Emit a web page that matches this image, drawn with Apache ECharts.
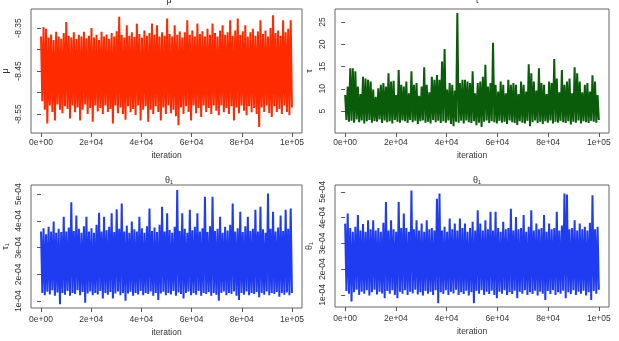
<!DOCTYPE html>
<html><head><meta charset="utf-8">
<script src="https://cdn.jsdelivr.net/npm/echarts@6/dist/echarts.min.js"></script>
<style>html,body{margin:0;padding:0;background:#fff}#c{width:619px;height:341px}</style>
</head><body><div id="c"></div>
<script>
// ---- x axis (iterations) ----
const xTickValues = [0, 20000, 40000, 60000, 80000, 100000];
const xTickLabels = ['0e+00', '2e+04', '4e+04', '6e+04', '8e+04', '1e+05'];
const nIter = 100000;

// ---- mu trace: local maxima / minima read along the chain ----
const muHi = [-8.37,-8.348,-8.352,-8.372,-8.365,-8.378,-8.359,-8.37,-8.375,-8.362,
-8.336,-8.368,-8.372,-8.36,-8.376,-8.366,-8.37,-8.359,-8.374,-8.368,
-8.35,-8.372,-8.366,-8.378,-8.359,-8.37,-8.365,-8.375,-8.362,-8.37,
-8.358,-8.324,-8.366,-8.372,-8.344,-8.368,-8.36,-8.371,-8.34,-8.364,
-8.372,-8.356,-8.368,-8.362,-8.34,-8.366,-8.344,-8.37,-8.36,-8.368,
-8.328,-8.364,-8.37,-8.344,-8.366,-8.358,-8.372,-8.36,-8.332,-8.366,
-8.356,-8.37,-8.34,-8.364,-8.358,-8.37,-8.352,-8.366,-8.34,-8.362,
-8.37,-8.356,-8.344,-8.366,-8.36,-8.332,-8.368,-8.356,-8.328,-8.366,
-8.358,-8.344,-8.37,-8.36,-8.352,-8.368,-8.358,-8.332,-8.364,-8.356,
-8.37,-8.35,-8.3205,-8.362,-8.356,-8.368,-8.332,-8.36,-8.352,-8.332];
const muLo = [-8.52,-8.54,-8.572,-8.53,-8.545,-8.565,-8.528,-8.54,-8.548,-8.532,
-8.538,-8.56,-8.53,-8.546,-8.535,-8.565,-8.54,-8.528,-8.55,-8.536,
-8.568,-8.53,-8.544,-8.536,-8.55,-8.53,-8.545,-8.538,-8.572,-8.53,
-8.548,-8.535,-8.55,-8.563,-8.532,-8.546,-8.538,-8.552,-8.53,-8.565,
-8.54,-8.532,-8.568,-8.54,-8.55,-8.532,-8.545,-8.565,-8.535,-8.55,
-8.53,-8.548,-8.54,-8.555,-8.576,-8.535,-8.55,-8.532,-8.545,-8.565,
-8.53,-8.548,-8.536,-8.557,-8.53,-8.545,-8.536,-8.55,-8.53,-8.542,
-8.553,-8.53,-8.546,-8.536,-8.55,-8.532,-8.565,-8.535,-8.548,-8.53,
-8.542,-8.553,-8.532,-8.546,-8.536,-8.55,-8.58,-8.535,-8.545,-8.53,
-8.548,-8.557,-8.532,-8.545,-8.538,-8.55,-8.53,-8.545,-8.553,-8.535];
const muTicks = [-8.55, -8.50, -8.45, -8.40, -8.35];
const muLabels = [-8.55, -8.45, -8.35];

// ---- tau trace ----
const tauHi = [8.6,10.5,14.6,14.6,13.9,10.5,8.8,12.7,12.3,12.0,
11.6,9.8,8.2,10.1,10.9,11.3,10.5,13.5,11.6,11.8,
8.6,14.2,10.9,10.5,11.6,9.0,13.9,10.9,11.3,8.4,
10.5,14.8,10.9,9.2,12.7,12.0,13.1,12.0,16.1,18.9,
9.8,11.3,10.9,9.6,27.0,11.3,12.0,12.0,11.6,11.3,
13.9,9.0,11.3,11.6,12.7,15.4,10.5,11.3,20.3,10.9,
9.4,11.6,10.9,9.0,12.0,10.9,11.3,10.9,8.8,11.6,
10.9,9.4,15.5,13.5,11.6,9.6,14.6,11.3,10.9,8.8,
11.6,11.3,16.7,12.3,9.2,14.2,10.9,11.6,12.3,9.0,
14.8,13.5,11.6,9.2,10.9,11.3,9.4,13.0,11.6,8.6];
const tauLo = [3.0,2.6,2.8,2.4,3.1,2.5,2.9,2.2,2.7,3.0,
2.4,2.8,2.6,3.1,2.3,2.9,2.5,2.7,2.2,3.0,
2.6,2.4,2.9,2.7,2.3,3.0,2.5,2.8,2.1,2.7,
2.9,2.4,2.6,2.2,3.0,2.5,2.8,2.3,2.7,2.4,
2.9,2.1,1.6,2.6,2.4,2.8,2.2,2.9,2.5,2.3,
2.7,1.8,2.4,1.4,2.6,2.9,2.3,2.7,2.5,2.2,
2.8,2.4,2.6,2.1,2.9,2.5,2.3,1.9,2.7,2.4,
2.2,2.8,1.6,2.5,2.9,2.3,2.6,2.1,2.7,2.4,
2.9,2.2,2.6,2.4,2.8,2.5,2.3,2.7,2.0,2.6,
2.4,2.9,2.2,2.7,2.5,2.3,2.8,2.6,2.4,3.0];
const tauTicks = [5, 10, 15, 20, 25];

// ---- theta_1 traces (values in units of 1e-04) ----
const thetaAHi = [3.6,3.72,3.5,3.78,3.6,3.97,3.55,3.7,3.58,4.15,
3.6,3.75,4.69,3.62,4.2,3.7,3.55,3.8,4.15,3.6,
3.72,3.55,3.85,4.3,3.6,4.15,3.65,3.78,4.28,3.58,
4.43,3.7,4.65,3.6,3.82,3.55,3.97,3.68,3.6,4.15,
3.72,3.55,3.8,4.46,3.62,3.75,3.58,3.85,4.53,3.6,
4.28,3.66,3.55,3.78,5.15,3.62,4.28,3.7,3.55,4.41,
3.65,3.78,4.28,3.6,3.72,4.9,3.58,3.8,4.9,3.62,
3.7,4.15,3.55,3.78,3.64,3.85,4.65,3.6,3.72,4.34,
3.58,3.8,4.15,3.62,3.7,4.41,3.6,4.53,3.68,3.55,
5.02,3.7,4.34,3.6,3.75,4.2,3.62,4.41,3.7,4.46];
const thetaALo = [1.3,1.22,1.35,1.25,1.4,1.2,1.32,0.88,1.3,1.24,
1.38,1.2,1.3,1.26,1.4,1.22,1.34,0.94,1.28,1.36,
1.22,1.3,1.25,1.38,1.1,1.3,1.24,1.34,1.1,1.28,
1.36,1.22,1.3,1.01,1.28,1.35,1.2,1.3,1.25,1.38,
1.22,1.3,1.26,1.36,1.2,1.3,1.04,1.28,1.35,1.22,
1.3,1.25,1.38,1.2,1.32,1.26,1.1,1.3,1.36,1.22,
1.3,1.24,1.38,1.2,1.3,1.26,1.34,1.2,1.3,1.24,
1.01,1.3,1.36,1.22,1.3,1.26,1.36,1.2,1.04,1.3,
1.24,1.36,1.22,1.3,1.26,1.34,1.14,1.3,1.24,1.36,
1.22,1.3,1.26,1.34,1.16,1.3,1.24,1.32,1.22,1.3];
const thetaBHi = [3.77,4.16,3.6,3.45,3.65,4.1,3.5,3.75,3.45,3.9,
3.55,3.9,3.5,3.6,3.45,3.8,4.61,3.5,3.9,3.55,
3.45,4.61,3.6,4.16,3.6,3.45,5.06,3.55,3.9,3.5,
3.77,3.45,3.9,3.55,3.6,3.5,4.74,4.94,3.5,3.65,
3.45,3.97,3.55,3.77,3.5,3.97,3.6,3.77,3.45,3.6,
3.84,3.5,4.29,3.77,3.5,3.9,3.55,4.23,3.5,4.23,
3.6,3.45,3.84,3.55,3.6,4.35,3.5,4.03,3.55,3.6,
4.1,3.45,3.65,4.29,3.5,3.77,3.55,3.6,4.1,3.45,
3.77,3.55,3.6,4.23,3.5,3.7,4.94,4.9,3.55,3.6,
3.9,3.5,3.77,3.55,3.65,3.5,3.8,4.87,3.55,3.65];
const thetaBLo = [1.15,1.05,0.74,1.1,1.2,1.0,1.12,1.05,1.18,0.98,
1.1,1.2,1.02,1.12,1.06,0.87,1.15,1.05,1.18,1.0,
0.87,1.12,1.05,1.18,1.0,1.12,1.06,1.2,1.02,1.1,
0.98,1.15,1.05,1.12,1.0,1.18,0.68,1.1,1.04,1.18,
1.0,1.12,1.06,1.2,1.0,1.1,1.04,1.16,0.98,1.1,
0.68,1.15,1.05,1.18,1.0,1.12,1.04,1.16,1.0,0.87,
1.12,1.05,1.18,1.0,1.1,1.04,1.16,0.87,1.12,1.05,
1.18,1.0,1.1,1.04,1.16,0.98,1.12,1.05,0.8,1.15,
1.04,1.18,1.0,1.1,1.05,1.16,0.87,1.1,1.04,1.18,
1.0,1.12,1.05,1.16,0.98,1.1,0.8,1.15,1.05,1.2];
const thetaTicks = [1, 2, 3, 4, 5];

// ---- build zig-zag trace from maxima/minima ----
function trace(hi, lo) {
  const n = hi.length * 2 - 1;
  const out = [];
  for (let i = 0; i < hi.length; i++) {
    out.push([(2 * i) * nIter / n, hi[i]]);
    out.push([Math.min(nIter, (2 * i + 1) * nIter / n), lo[i]]);
  }
  return out;
}

const FONT = 'Liberation Sans, Arial, sans-serif';
const TXT = '#333';
const grids = [
  {left: 26, top: 9, width: 276, height: 124},
  {left: 335, top: 9, width: 274, height: 124},
  {left: 26, top: 185, width: 276, height: 123},
  {left: 335, top: 185, width: 274, height: 122}
].map(g => Object.assign(g, {show: true, borderColor: '#666', borderWidth: 1, backgroundColor: 'transparent', containLabel: false}));

function xAxis(gi, margin, gap) {
  return {
    type: 'value', gridIndex: gi, min: -4000, max: 104000,
    name: 'iteration', nameLocation: 'middle', nameGap: gap,
    nameTextStyle: {fontFamily: FONT, fontSize: 8.5, color: TXT},
    axisLine: {show: false},
    axisTick: {show: true, length: 4, customValues: xTickValues, lineStyle: {color: '#555'}},
    axisLabel: {customValues: xTickValues, margin: margin, fontFamily: FONT, fontSize: 8.5, color: TXT,
      formatter: v => xTickLabels[xTickValues.indexOf(v)] || ''},
    splitLine: {show: false}
  };
}
function yAxis(gi, name, min, max, ticks, labels, fmt) {
  return {
    type: 'value', gridIndex: gi, min: min, max: max,
    name: name, nameLocation: 'middle', nameGap: 21, nameRotate: 90,
    nameTextStyle: {fontFamily: FONT, fontSize: 9, color: TXT},
    axisLine: {show: false},
    axisTick: {show: true, length: 4, customValues: ticks, lineStyle: {color: '#555'}},
    axisLabel: {customValues: labels, rotate: 90, margin: 8, fontFamily: FONT, fontSize: 8.5, color: TXT, formatter: fmt},
    splitLine: {show: false}
  };
}

const LW = 2;
const option = {
  animation: false,
  backgroundColor: '#fff',
  title: [
    {text: 'μ', left: 164, top: -9, textAlign: 'center', textStyle: {fontFamily: FONT, fontSize: 9, fontWeight: 'normal', color: TXT}},
    {text: 'τ', left: 472, top: -9, textAlign: 'center', textStyle: {fontFamily: FONT, fontSize: 9, fontWeight: 'normal', color: TXT}},
    {text: 'θ₁', left: 164, top: 171, textAlign: 'center', textStyle: {fontFamily: FONT, fontSize: 9, fontWeight: 'normal', color: TXT}},
    {text: 'θ₁', left: 472, top: 171, textAlign: 'center', textStyle: {fontFamily: FONT, fontSize: 9, fontWeight: 'normal', color: TXT}}
  ],
  grid: grids,
  xAxis: [xAxis(0, 5, 18), xAxis(1, 5, 18), xAxis(2, 7, 20), xAxis(3, 7, 20)],
  yAxis: [
    yAxis(0, 'μ', -8.594, -8.306, muTicks, muLabels, v => v.toFixed(2)),
    yAxis(1, 'τ', 0.07, 27.9, tauTicks, tauTicks, v => String(v)),
    yAxis(2, 'τ₁', 0.74, 5.34, thetaTicks, thetaTicks, v => v + 'e-04'),
    yAxis(3, 'θ₁', 0.53, 5.27, thetaTicks, thetaTicks, v => v + 'e-04')
  ],
  series: [
    {type: 'line', xAxisIndex: 0, yAxisIndex: 0, data: trace(muHi, muLo), showSymbol: false, lineStyle: {color: '#ff2a00', width: LW, join: 'miter'}, silent: true},
    {type: 'line', xAxisIndex: 1, yAxisIndex: 1, data: trace(tauHi, tauLo), showSymbol: false, lineStyle: {color: '#0a5c0a', width: LW, join: 'miter'}, silent: true},
    {type: 'line', xAxisIndex: 2, yAxisIndex: 2, data: trace(thetaAHi, thetaALo), showSymbol: false, lineStyle: {color: '#1f3cf2', width: LW, join: 'miter'}, silent: true},
    {type: 'line', xAxisIndex: 3, yAxisIndex: 3, data: trace(thetaBHi, thetaBLo), showSymbol: false, lineStyle: {color: '#1f3cf2', width: LW, join: 'miter'}, silent: true}
  ]
};
const chart = echarts.init(document.getElementById('c'), null, {renderer: 'canvas'});
chart.setOption(option);
</script></body></html>
